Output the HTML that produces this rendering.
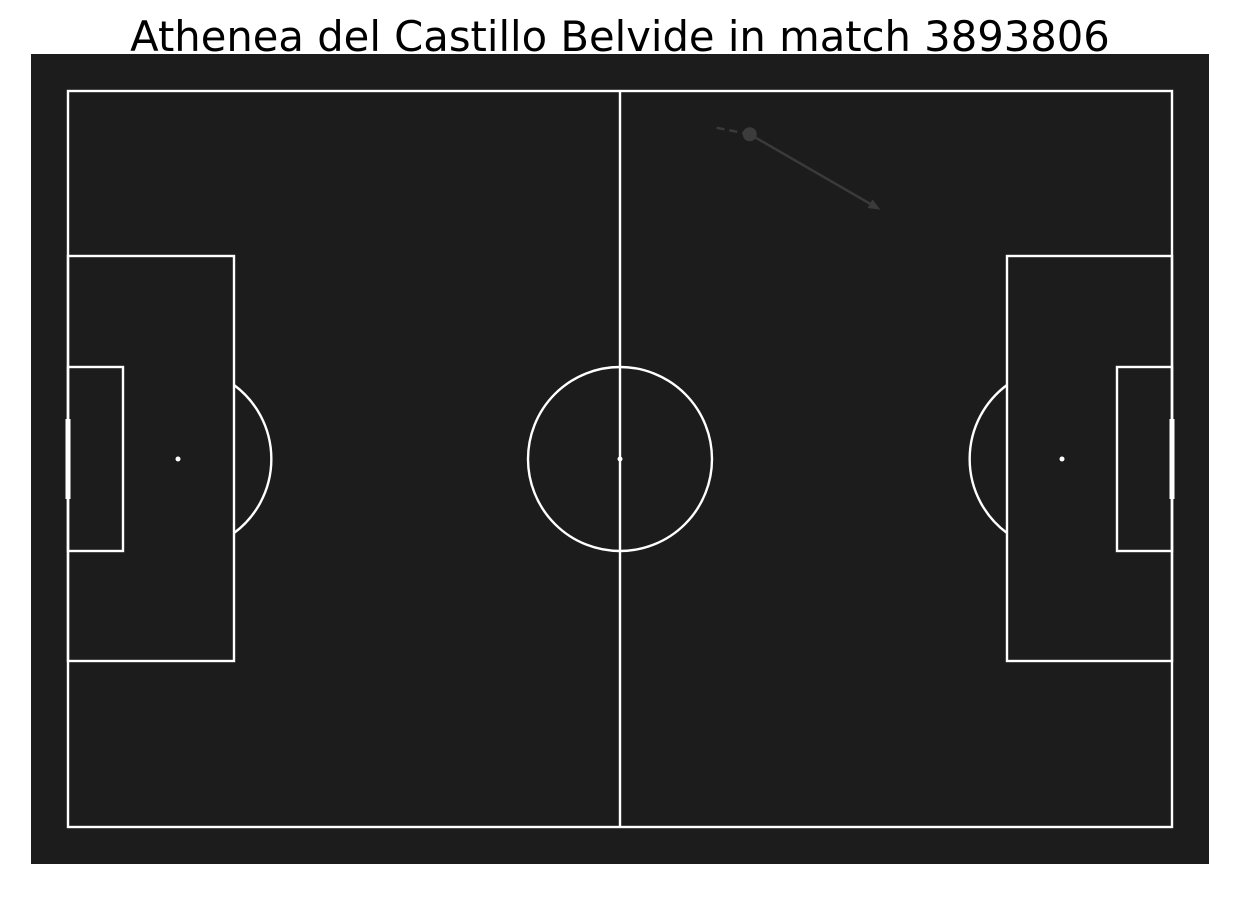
<!DOCTYPE html>
<html><head><meta charset="utf-8"><style>
body{margin:0;background:#fff;width:1240px;height:900px;overflow:hidden;font-family:"Liberation Sans","DejaVu Sans",sans-serif}
</style></head><body>
<svg width="1240" height="900">
<text x="620" y="51" text-anchor="middle" font-size="41.7" fill="#000" font-family="DejaVu Sans, Liberation Sans, sans-serif">Athenea del Castillo Belvide in match 3893806</text>
<rect x="31" y="54" width="1178" height="810" fill="#1c1c1c"/>
<g id="lines" stroke="#fff" stroke-width="2.4" fill="none">
<rect x="68" y="91" width="1104" height="736"/>
<line x1="620" y1="91" x2="620" y2="827"/>
<circle cx="620" cy="459" r="92"/>
<rect x="68" y="256" width="166" height="405"/>
<rect x="1007" y="256" width="165" height="405"/>
<rect x="68" y="367" width="55" height="184"/>
<rect x="1117" y="367" width="55" height="184"/>
<path d="M234 385 A92 92 0 0 1 234 533"/>
<path d="M1007 385 A92 92 0 0 0 1007 533"/>
<line x1="68" y1="419" x2="68" y2="499" stroke-width="5"/>
<line x1="1172" y1="419" x2="1172" y2="499" stroke-width="5"/>
</g>
<circle cx="620" cy="459" r="2.5" fill="#fff"/>
<circle cx="178" cy="459" r="2.5" fill="#fff"/>
<circle cx="1062" cy="459" r="2.5" fill="#fff"/>
<g id="events"></g>
</svg>
<script>
const carryStartX=[70.5], carryStartY=[4.0];
const passStartX=[74.1], passStartY=[4.7];
const passEndX=[88.3], passEndY=[12.9];
const sx=v=>68+v*9.2, sy=v=>91+v*9.2;
const g=document.getElementById('events');
const NS='http://www.w3.org/2000/svg';
for(let i=0;i<passStartX.length;i++){
  const c=document.createElementNS(NS,'line');
  
  
  c.setAttribute('x1',sx(carryStartX[i]));c.setAttribute('y1',sy(carryStartY[i]));
  c.setAttribute('x2',sx(passStartX[i]));c.setAttribute('y2',sy(passStartY[i]));
  c.setAttribute('stroke','#3a3a3a');c.setAttribute('stroke-width','2.5');c.setAttribute('stroke-dasharray','8 5');
  g.appendChild(c);
  const x1=sx(passStartX[i]),y1=sy(passStartY[i]),x2=sx(passEndX[i]),y2=sy(passEndY[i]);
  const l=document.createElementNS(NS,'line');
  
  
  const a=Math.atan2(y2-y1,x2-x1);
  l.setAttribute('x1',x1);l.setAttribute('y1',y1);
  l.setAttribute('x2',x2-8*Math.cos(a));l.setAttribute('y2',y2-8*Math.sin(a));
  l.setAttribute('stroke','#3a3a3a');l.setAttribute('stroke-width','2.5');
  g.appendChild(l);
  const h=document.createElementNS(NS,'polygon');
  
  
  const p=[[x2,y2],[x2-12*Math.cos(a)+5*Math.sin(a),y2-12*Math.sin(a)-5*Math.cos(a)],[x2-12*Math.cos(a)-5*Math.sin(a),y2-12*Math.sin(a)+5*Math.cos(a)]];
  h.setAttribute('points',p.map(q=>q.join(',')).join(' '));
  h.setAttribute('fill','#3a3a3a');
  g.appendChild(h);
  const d=document.createElementNS(NS,'circle');
  
  
  d.setAttribute('cx',x1);d.setAttribute('cy',y1);d.setAttribute('r','7');
  d.setAttribute('fill','#3c3c3c');
  g.appendChild(d);
}
</script>
</body></html>
